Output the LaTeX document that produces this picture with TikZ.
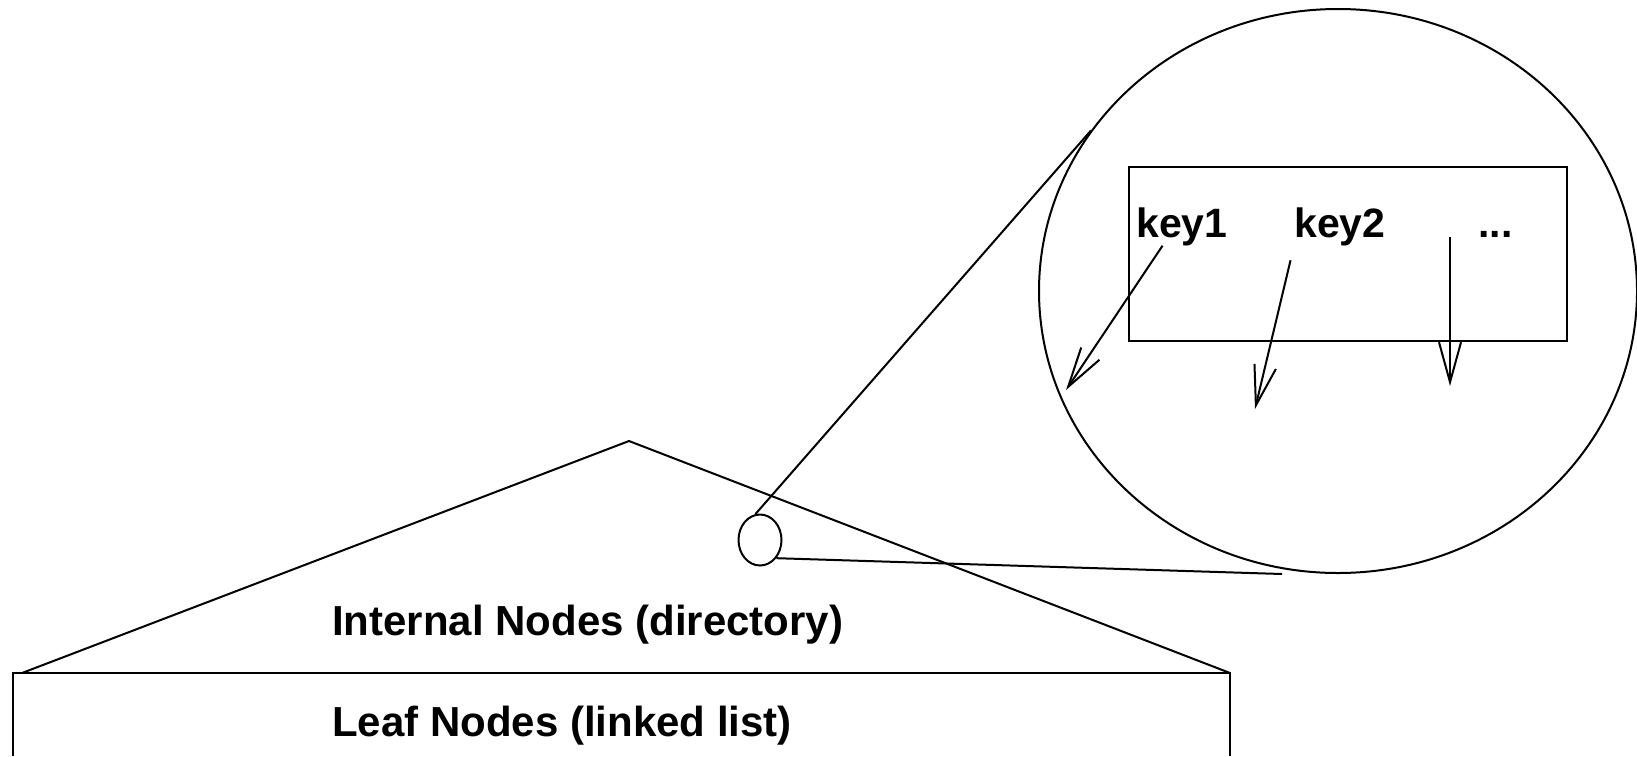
\documentclass[tikz,border=0pt]{standalone}
\usepackage{fontspec}
\setmainfont{Liberation Sans}
\usetikzlibrary{shapes.geometric,arrows.meta}
\tikzstyle{lens} = [draw, ellipse, inner sep=0pt, line width=2pt]
\tikzstyle{block} = [draw, rectangle, inner sep=0pt, line width=2pt]
\tikzstyle{treetext} = [inner sep=0pt, anchor=base west,
font=\fontsize{42}{50}\selectfont\bfseries]
\tikzstyle{keytext} = [inner sep=0pt, anchor=base west,
font=\fontsize{41}{48}\selectfont\bfseries]
\tikzstyle{line} = [draw, line width=2pt]
\tikzstyle{pointer} = [draw, line width=2pt, -{Straight Barb[length=40pt,width=22pt]}]

\begin{document}
\begin{tikzpicture}[x=1pt, y=-1pt]
\useasboundingbox (0,0) rectangle (1637,756);
% Place nodes
\node [lens, minimum width=598pt, minimum height=564pt] (zoom) at (1338,291) {};
\node [block, minimum width=438pt, minimum height=174pt] (keys) at (1348,254) {};
\node [keytext] (key1) at (1136,237) {key1};
\node [keytext] (key2) at (1294,237) {key2};
\node [keytext] (more) at (1478,237) {...};
\node [lens, minimum width=43pt, minimum height=51pt] (spot) at (760,540) {};
\node [treetext] (internal) at (332,635) {Internal Nodes (directory)};
\node [treetext] (leaves) at (332,736) {Leaf Nodes (linked list)};
\coordinate (apex) at (629,441);
\coordinate (lowend) at (1282,574);
\coordinate (tip1) at (1066,390);
\coordinate (tip2) at (1255,409);
\coordinate (tip3) at (1450,386);

% Draw tree outline
\path [line] (22,673) -- (apex) -- (1230,673);
\draw [line width=2.6pt] (13,756) |- (1230,673) -- (1230,756);

% Draw edges
\path [line] (spot.100) -- (zoom.147);
\path [line] (spot.-48) -- (lowend);
\path [pointer] (key1.225) -- (tip1);
\path [pointer, shorten <=15pt] (key2.south west) -- (tip2);
\path [pointer] ([xshift=-28pt]more.base west) -- (tip3);
\end{tikzpicture}
\end{document}
